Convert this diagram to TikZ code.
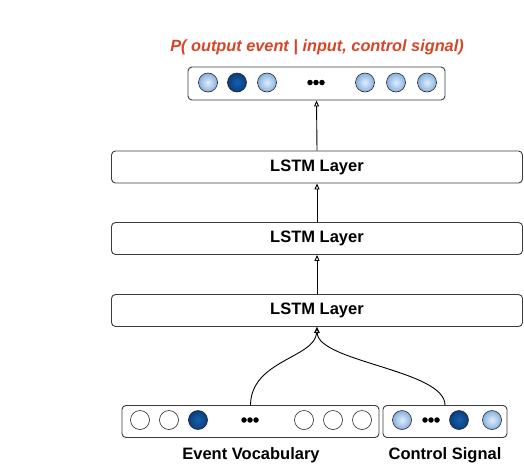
\documentclass[tikz,border=0pt]{standalone}
\usepackage{fontspec}
\setmainfont{Liberation Sans}
\usetikzlibrary{arrows.meta,calc}
\definecolor{titlered}{RGB}{214,69,38}
\definecolor{lbin}{RGB}{226,238,250}
\definecolor{lbout}{RGB}{134,176,224}
\definecolor{dbin}{RGB}{22,96,170}
\definecolor{dbout}{RGB}{8,62,125}
\definecolor{boxline}{RGB}{60,60,60}
\tikzset{
  box/.style={draw=boxline, line width=0.9pt, rounded corners=4pt, fill=white, inner sep=0pt, align=center},
  unit/.style={circle, draw=black!85, line width=0.6pt, minimum size=19pt, inner sep=0pt},
  lightu/.style={unit, shading=radial, inner color=lbin, outer color=lbout},
  darku/.style={unit, shading=radial, inner color=dbin, outer color=dbout},
  emptyu/.style={unit, fill=white},
  dotu/.style={circle, fill=black, minimum size=5.5pt, inner sep=0pt},
  arr/.style={line width=0.9pt, -{Triangle[open,length=6pt,width=5pt]}},
  lbl/.style={font=\fontsize{16.5}{19}\selectfont\bfseries},
}
\begin{document}
\begin{tikzpicture}[x=1pt,y=-1pt]
\useasboundingbox (0,0) rectangle (524,464);
% title
\node[font=\fontsize{16.3}{19}\selectfont\bfseries\itshape, text=titlered] (title) at (317,47) {P( output event | input, control signal)};
% output box
\node[box, minimum width=257pt, minimum height=33pt] (out) at (316.5,83.5) {};
\node[lightu] (o1) at (208,82.5) {};
\node[darku] (o2) at (237,82.5) {};
\node[lightu] (o3) at (267,82.5) {};
\node[dotu] (od1) at (310,82.5) {};
\node[dotu] (od2) at (316,82.5) {};
\node[dotu] (od3) at (322,82.5) {};
\node[lightu] (o4) at (365,82.5) {};
\node[lightu] (o5) at (396,82.5) {};
\node[lightu] (o6) at (427,82.5) {};
% LSTM layers
\node[box, lbl, minimum width=411pt, minimum height=32pt] (l1) at (317,167) {LSTM Layer};
\node[box, lbl, minimum width=411pt, minimum height=32pt] (l2) at (317,238.5) {LSTM Layer};
\node[box, lbl, minimum width=411pt, minimum height=32pt] (l3) at (317,310.5) {LSTM Layer};
% input boxes
\node[box, minimum width=257pt, minimum height=32pt] (ev) at (250.5,421.5) {};
\node[box, minimum width=124pt, minimum height=32pt] (ct) at (445,421.5) {};
\node[emptyu] (e1) at (140,420) {};
\node[emptyu] (e2) at (169,420) {};
\node[darku] (e3) at (198,420) {};
\node[dotu] (ed1) at (244,420) {};
\node[dotu] (ed2) at (250,420) {};
\node[dotu] (ed3) at (256,420) {};
\node[emptyu] (e4) at (304,420) {};
\node[emptyu] (e5) at (333,420) {};
\node[emptyu] (e6) at (362,420) {};
\node[lightu] (c1) at (402,420) {};
\node[dotu] (cd1) at (425,420) {};
\node[dotu] (cd2) at (431,420) {};
\node[dotu] (cd3) at (437,420) {};
\node[darku] (c2) at (459,420) {};
\node[lightu] (c3) at (492,420) {};
% labels
\node[lbl] (evl) at (251,455) {Event Vocabulary};
\node[lbl] (ctl) at (445,455) {Control Signal};
% connectors
\draw[arr] (l1.north) -- (out.south);
\draw[arr] (l2.north) -- (l1.south);
\draw[arr] (l3.north) -- (l2.south);
\draw[arr] (ev.north) .. controls (251,360) and (315,358) .. (l3.south);
\draw[arr] (ct.north) .. controls (445,370) and (318,362) .. (l3.south);
\end{tikzpicture}
\end{document}
